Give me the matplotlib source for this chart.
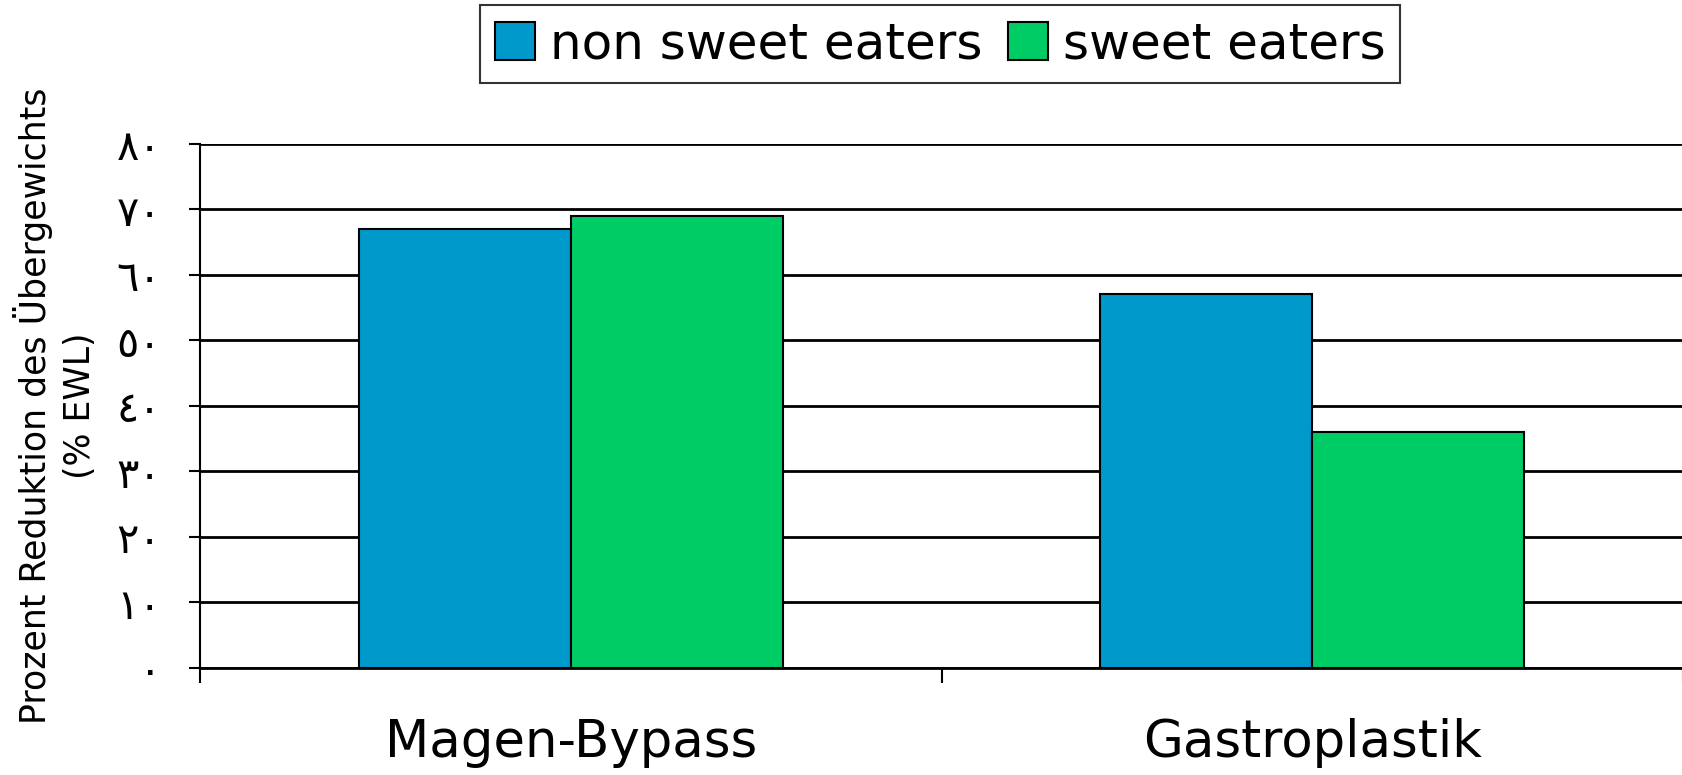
import numpy as np
import matplotlib.pyplot as plt

categories = ['Magen-Bypass', 'Gastroplastik']
non_sweet = [67, 57]
sweet = [69, 36]
series_names = ['non sweet eaters', 'sweet eaters']
yticks = [0, 10, 20, 30, 40, 50, 60, 70, 80]
ytick_labels = ['٠', '١٠', '٢٠', '٣٠', '٤٠', '٥٠', '٦٠', '٧٠', '٨٠']

plt.rcParams['font.family'] = ['DejaVu Sans']

fig = plt.figure(figsize=(16.83, 7.75), dpi=100)
ax = fig.add_axes([0.1189, 0.1386, 0.8811, 0.6758])

x = np.arange(len(categories))
w = 0.286
b1 = ax.bar(x - w / 2, non_sweet, w, color='#0099CC', edgecolor='black', lw=1.5,
            label=series_names[0], zorder=3)
b2 = ax.bar(x + w / 2, sweet, w, color='#00CC66', edgecolor='black', lw=1.5,
            label=series_names[1], zorder=3)

ax.set_xlim(-0.5, len(categories) - 0.5)
ax.set_ylim(0, 80)
ax.set_yticks(yticks)
ax.set_yticklabels(ytick_labels, fontsize=30)
ax.yaxis.grid(True, color='black', lw=2)
ax.set_axisbelow(True)

# category labels without ticks, boundary ticks between categories
ax.set_xticks(x)
ax.set_xticklabels(categories, fontsize=37)
ax.tick_params(axis='x', length=0, pad=36)
ax.set_xticks(np.arange(len(categories) + 1) - 0.5, minor=True)
ax.tick_params(axis='x', which='minor', length=11, width=1.5, direction='out')
ax.tick_params(axis='y', length=8, width=1.5, pad=20)

for s in ['top', 'right']:
    ax.spines[s].set_visible(False)
ax.spines['left'].set_linewidth(1.5)
ax.spines['bottom'].set_linewidth(2)

ax.set_ylabel('Prozent Reduktion des Übergewichts\n(% EWL)', fontsize=25,
              labelpad=14, linespacing=1.35)

leg = fig.legend(handles=[b1, b2], loc='center', bbox_to_anchor=(0.5587, 0.9426),
                 ncol=2, fontsize=36, frameon=True, fancybox=False,
                 edgecolor='black', handlelength=0.8, handleheight=0.8,
                 handletextpad=0.3, columnspacing=0.5, borderpad=0.3,
                 borderaxespad=0)
leg.get_frame().set_linewidth(1.5)

fig.savefig('out.png', dpi=100)
